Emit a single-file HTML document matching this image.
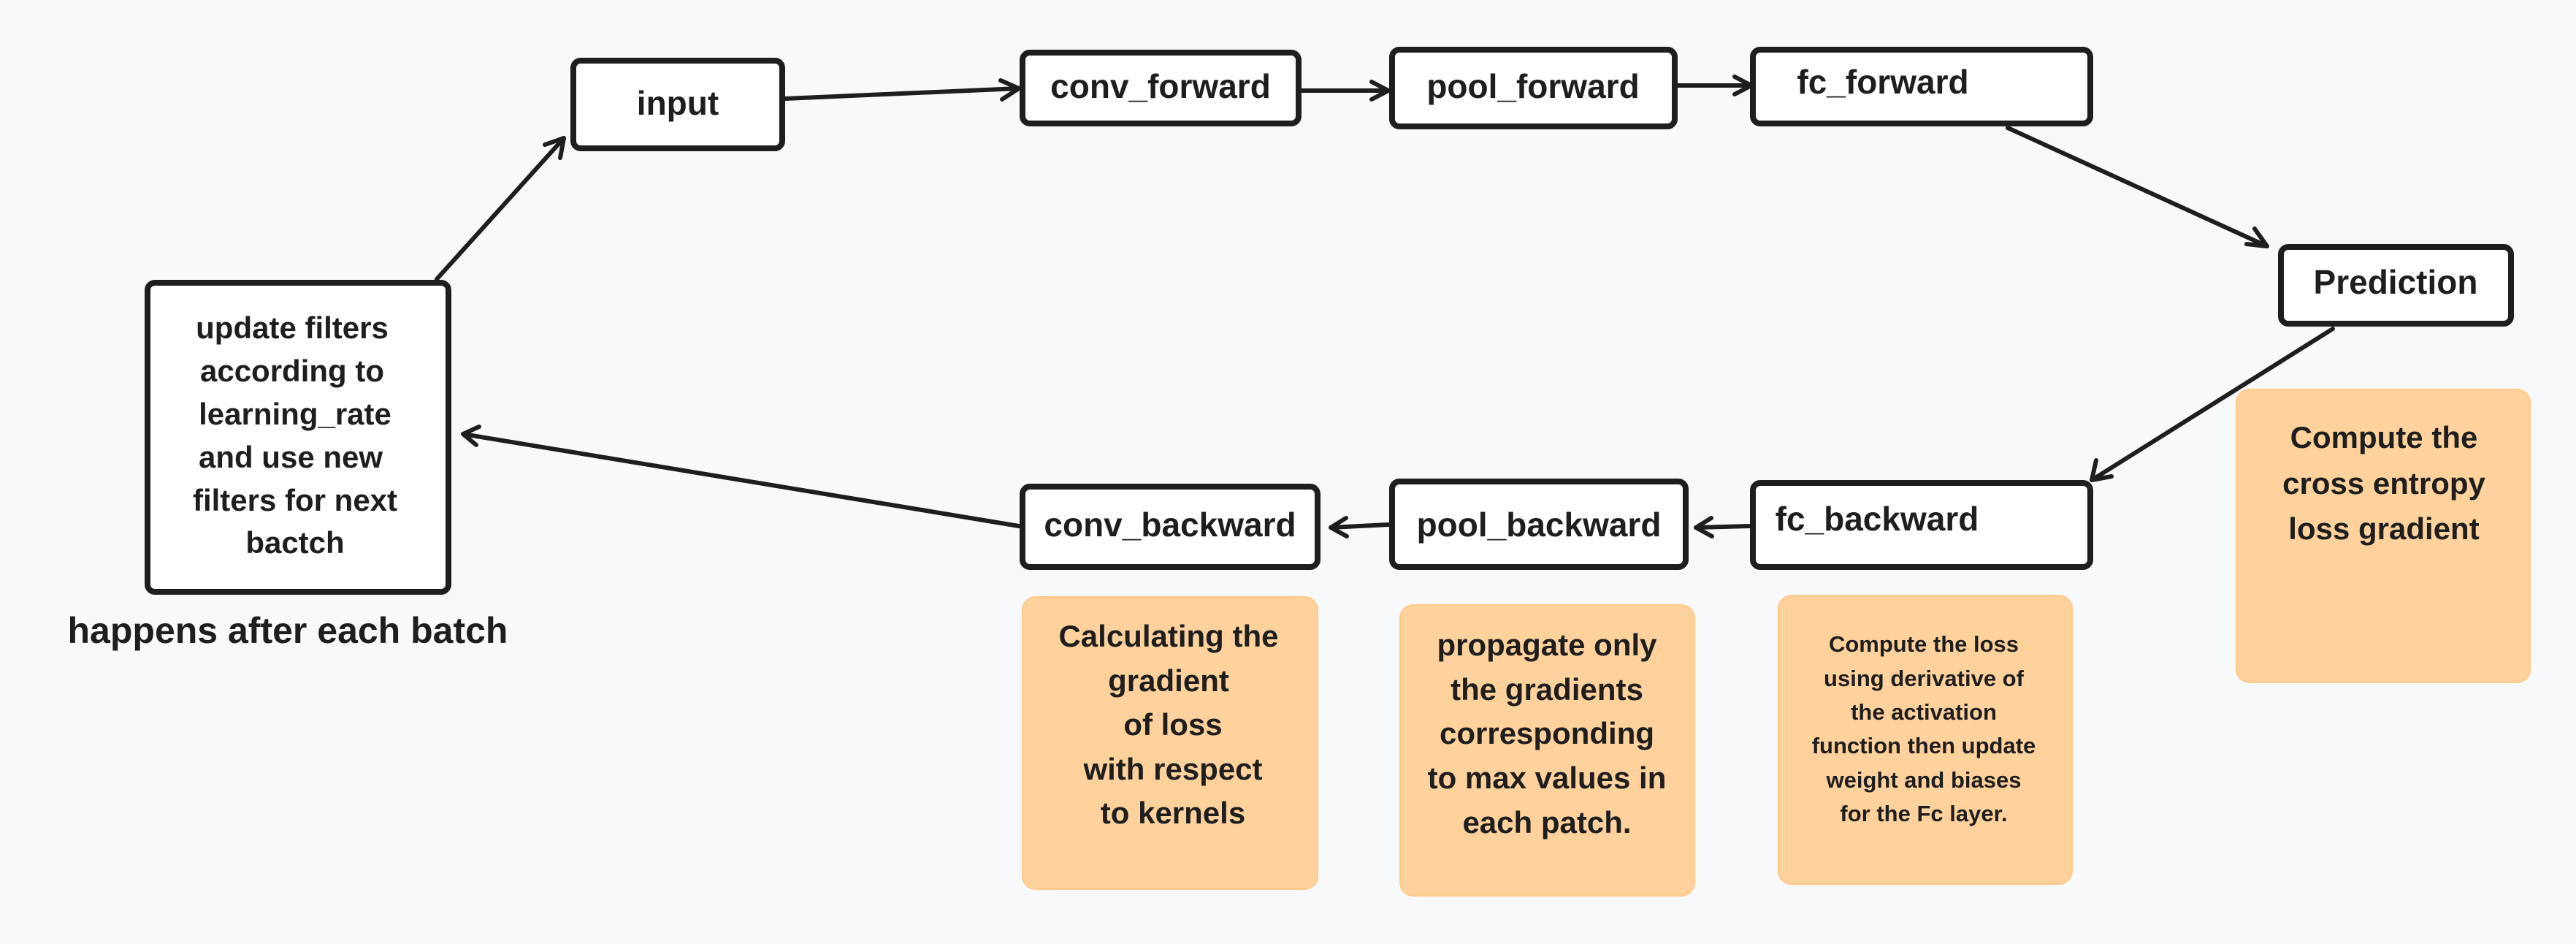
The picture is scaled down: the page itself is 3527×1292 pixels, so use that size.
<!DOCTYPE html>
<html><head><style>
html,body{margin:0;padding:0;background:#f8f9fa;}
svg{display:block;}
text{font-family:"Liberation Sans",sans-serif;fill:#1e1e1e;}
</style></head><body>
<svg width="3527" height="1292" viewBox="0 0 3527 1292" xmlns="http://www.w3.org/2000/svg">
<rect width="3527" height="1292" fill="#f8f9fa"/>
<g fill="#ffd19c" stroke="#ffc98a" stroke-width="2">
<rect x="1400" y="817" width="404" height="400" rx="18"/>
<rect x="1917" y="828" width="403" height="398" rx="18"/>
<rect x="2435" y="815" width="402" height="395" rx="18"/>
<rect x="3062" y="533" width="402" height="401" rx="18"/>
</g>
<g fill="#fff" stroke="#1e1e1e" stroke-width="8">
<rect x="785" y="83" width="286" height="120" rx="10"/>
<rect x="1400" y="72" width="378" height="97" rx="10"/>
<rect x="1906" y="68" width="387" height="105" rx="10"/>
<rect x="2400" y="68" width="462" height="101" rx="10"/>
<rect x="3123" y="338" width="315" height="105" rx="10"/>
<rect x="202" y="387" width="412" height="423" rx="10"/>
<rect x="1400" y="666" width="404" height="110" rx="10"/>
<rect x="1906" y="659" width="402" height="117" rx="10"/>
<rect x="2400" y="661" width="462" height="115" rx="10"/>
</g>
<g stroke="#1e1e1e" stroke-width="6" fill="none" stroke-linecap="round" stroke-linejoin="round">
<path d="M1075 135 L1395 121 M1370 110 L1395 121 L1372 136"/>
<path d="M1782 124 L1901 124 M1878 112 L1901 124 L1878 136"/>
<path d="M2297 117 L2398 117 M2375 105 L2398 117 L2375 129"/>
<path d="M2749 175 L3104 337 M3076 334 L3104 337 L3087 313"/>
<path d="M3194 450 L2864 657 M2870 630 L2864 657 L2891 652"/>
<path d="M2396 720 L2322 722 M2343 709 L2322 722 L2344 734"/>
<path d="M1901 718 L1822 722 M1843 709 L1822 722 L1844 734"/>
<path d="M1395 720 L634 594 M656 584 L634 594 L652 609"/>
<path d="M598 382 L772 189 M767 216 L772 189 L746 198"/>
</g>
<g font-size="46" font-weight="bold" text-anchor="middle">
<text x="928" y="157">input</text>
<text x="1589" y="134">conv_forward</text>
<text x="2099" y="134">pool_forward</text>
<text x="2578" y="128">fc_forward</text>
<text x="3280" y="402">Prediction</text>
<text x="1602" y="734">conv_backward</text>
<text x="2107" y="734">pool_backward</text>
<text x="2570" y="726">fc_backward</text>
</g>
<g font-size="42" text-anchor="middle" font-weight="bold">
<text x="400" y="463">update filters</text>
<text x="400" y="522">according to</text>
<text x="404" y="581">learning_rate</text>
<text x="398" y="640">and use new</text>
<text x="404" y="699">filters for next</text>
<text x="404" y="757">bactch</text>
<text x="394" y="880" font-size="50">happens after each batch</text>
</g>
<g font-size="42" text-anchor="middle" font-weight="bold">
<text x="1600" y="885">Calculating the</text>
<text x="1600" y="946">gradient</text>
<text x="1606" y="1006">of loss</text>
<text x="1606" y="1067">with respect</text>
<text x="1606" y="1127">to kernels</text>
<text x="2118" y="897">propagate only</text>
<text x="2118" y="958">the gradients</text>
<text x="2118" y="1018">corresponding</text>
<text x="2118" y="1079">to max values in</text>
<text x="2118" y="1140">each patch.</text>
<text x="3264" y="613">Compute the</text>
<text x="3264" y="676">cross entropy</text>
<text x="3264" y="738">loss gradient</text>
</g>
<g font-size="31" text-anchor="middle" font-weight="bold">
<text x="2634" y="892">Compute the loss</text>
<text x="2634" y="939">using derivative of</text>
<text x="2634" y="985">the activation</text>
<text x="2634" y="1031">function then update</text>
<text x="2634" y="1078">weight and biases</text>
<text x="2634" y="1124">for the Fc layer.</text>
</g>
</svg>
</body></html>
